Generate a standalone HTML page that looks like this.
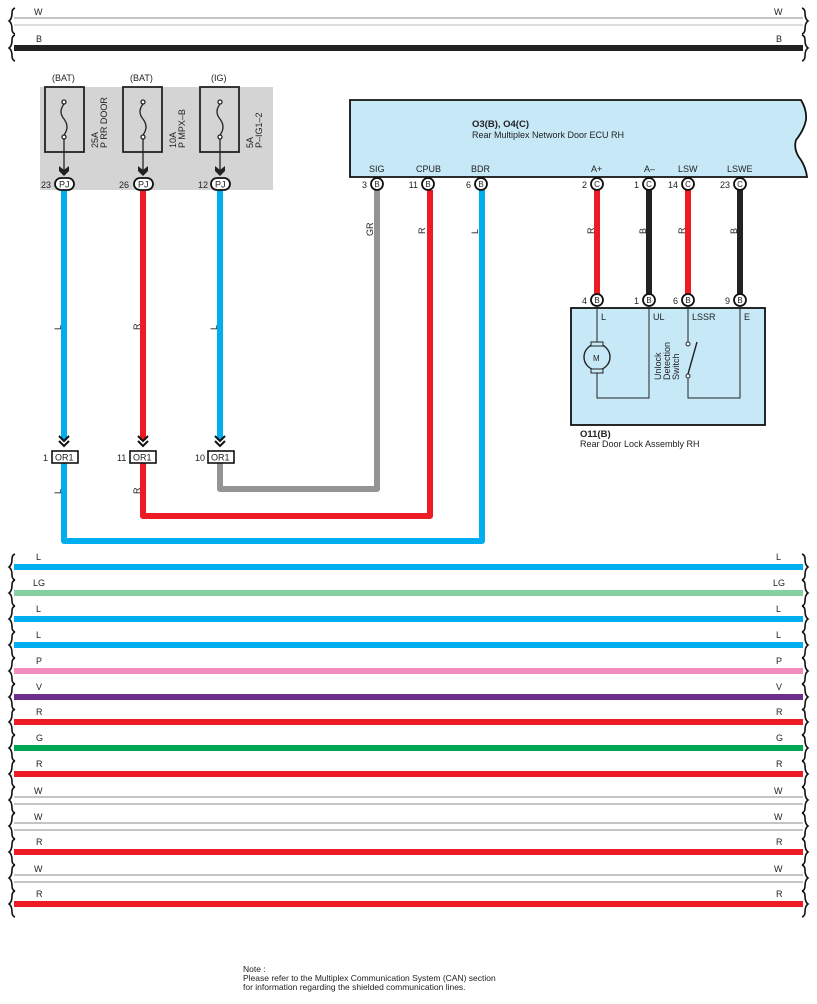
<!DOCTYPE html>
<html><head><meta charset="utf-8"><style>
html,body{margin:0;padding:0;background:#fff}
svg{display:block;font-family:"Liberation Sans",Arial,sans-serif}
</style></head><body>
<svg width="817" height="1004" viewBox="0 0 817 1004" xmlns="http://www.w3.org/2000/svg">
<defs>
<path id="bl" d="M15 -13 q-3 1 -3 5 q0 6 -3 8 q3 2 3 8 q0 4 3 5" fill="none" stroke="#111" stroke-width="1.6"/>
<path id="br" d="M802 -13 q3 1 3 5 q0 6 3 8 q-3 2 -3 8 q0 4 -3 5" fill="none" stroke="#111" stroke-width="1.6"/>
</defs>
<g font-size="9" fill="#222">
<line x1="14" y1="18" x2="803" y2="18" stroke="#888" stroke-width="1"/>
<line x1="14" y1="25" x2="803" y2="25" stroke="#bbb" stroke-width="1"/>
<use href="#bl" y="21"/><use href="#br" y="21"/>
<text x="34" y="15">W</text><text x="774" y="15">W</text>
<line x1="14" y1="48" x2="803" y2="48" stroke="#222" stroke-width="6"/>
<use href="#bl" y="48"/><use href="#br" y="48"/>
<text x="36" y="42">B</text><text x="776" y="42">B</text>

<rect x="40" y="87" width="233" height="103" fill="#d4d4d5"/>
<text x="52" y="81">(BAT)</text><text x="130" y="81">(BAT)</text><text x="211" y="81">(IG)</text>
<g fill="none" stroke="#222" stroke-width="1.8">
<rect x="45" y="87" width="39" height="65"/><rect x="123" y="87" width="39" height="65"/><rect x="200" y="87" width="39" height="65"/>
</g>
<g fill="none" stroke="#222" stroke-width="1.3">
<path d="M64 104 q-6 8 0 15 q6 8 0 16"/><circle cx="64" cy="102" r="2" fill="#fff"/><circle cx="64" cy="137" r="2" fill="#fff"/>
<path d="M143 104 q-6 8 0 15 q6 8 0 16"/><circle cx="143" cy="102" r="2" fill="#fff"/><circle cx="143" cy="137" r="2" fill="#fff"/>
<path d="M220 104 q-6 8 0 15 q6 8 0 16"/><circle cx="220" cy="102" r="2" fill="#fff"/><circle cx="220" cy="137" r="2" fill="#fff"/>
<line x1="64" y1="139" x2="64" y2="170"/><line x1="143" y1="139" x2="143" y2="170"/><line x1="220" y1="139" x2="220" y2="170"/>
</g>
<g fill="#222">
<path d="M59 166 l5 4 l5 -4 l0 5 l-5 5 l-5 -5z"/><path d="M138 166 l5 4 l5 -4 l0 5 l-5 5 l-5 -5z"/><path d="M215 166 l5 4 l5 -4 l0 5 l-5 5 l-5 -5z"/>
</g>
<g font-size="9">
<text transform="translate(98,148) rotate(-90)">25A</text><text transform="translate(107,148) rotate(-90)">P RR DOOR</text>
<text transform="translate(176,148) rotate(-90)">10A</text><text transform="translate(185,148) rotate(-90)">P MPX–B</text>
<text transform="translate(253,148) rotate(-90)">5A</text><text transform="translate(262,148) rotate(-90)">P–IG1–2</text>
</g>

<g fill="none" stroke-linejoin="round">
<path d="M64 190 V440" stroke="#00aeef" stroke-width="6"/>
<path d="M143 190 V440" stroke="#ed1c24" stroke-width="6"/>
<path d="M220 190 V440" stroke="#00aeef" stroke-width="6"/>
<path d="M64 463 V541 H482 V190" stroke="#00aeef" stroke-width="6"/>
<path d="M143 463 V516 H430 V190" stroke="#ed1c24" stroke-width="6"/>
<path d="M220 463 V489 H377 V190" stroke="#949494" stroke-width="6"/>
<path d="M597 190 V297" stroke="#ed1c24" stroke-width="6"/>
<path d="M649 190 V297" stroke="#222" stroke-width="6"/>
<path d="M688 190 V297" stroke="#ed1c24" stroke-width="6"/>
<path d="M740 190 V297" stroke="#222" stroke-width="6"/>
</g>

<g font-size="9">
<g fill="#fff" stroke="#111" stroke-width="1.8">
<rect x="55" y="178" width="19" height="12" rx="6"/><rect x="134" y="178" width="19" height="12" rx="6"/><rect x="211" y="178" width="19" height="12" rx="6"/>
</g>
<text x="59" y="187.5">PJ</text><text x="138" y="187.5">PJ</text><text x="215" y="187.5">PJ</text>
<text x="41" y="188">23</text><text x="119" y="188">26</text><text x="198" y="188">12</text>
</g>

<g fill="none" stroke="#111" stroke-width="2">
<path d="M59 436 l5 5 l5 -5 M59 441 l5 5 l5 -5"/>
<path d="M138 436 l5 5 l5 -5 M138 441 l5 5 l5 -5"/>
<path d="M215 436 l5 5 l5 -5 M215 441 l5 5 l5 -5"/>
</g>
<g fill="#fff" stroke="#111" stroke-width="1.6">
<rect x="52" y="451" width="26" height="12"/><rect x="130" y="451" width="26" height="12"/><rect x="208" y="451" width="26" height="12"/>
</g>
<g font-size="9">
<text x="55" y="460.5">OR1</text><text x="133" y="460.5">OR1</text><text x="211" y="460.5">OR1</text>
<text x="43" y="461">1</text><text x="117" y="461">11</text><text x="195" y="461">10</text>
</g>

<g font-size="9">
<text transform="translate(61,330) rotate(-90)">L</text>
<text transform="translate(140,330) rotate(-90)">R</text>
<text transform="translate(217,330) rotate(-90)">L</text>
<text transform="translate(61,494) rotate(-90)">L</text>
<text transform="translate(140,494) rotate(-90)">R</text>
<text transform="translate(373,236) rotate(-90)">GR</text>
<text transform="translate(425,234) rotate(-90)">R</text>
<text transform="translate(478,234) rotate(-90)">L</text>
<text transform="translate(594,234) rotate(-90)">R</text>
<text transform="translate(646,234) rotate(-90)">B</text>
<text transform="translate(685,234) rotate(-90)">R</text>
<text transform="translate(737,234) rotate(-90)">B</text>
</g>

<path d="M350 100 H801 q6 10 5 20 q-2 10 -10 20 q-3 10 5 20 q5 8 6 17 H350 Z" fill="#c6e8f7" stroke="#111" stroke-width="1.8"/>
<text x="472" y="127" font-size="9.5" font-weight="bold">O3(B), O4(C)</text>
<text x="472" y="138" font-size="9">Rear Multiplex Network Door ECU RH</text>
<g font-size="9">
<text x="369" y="172">SIG</text><text x="416" y="172">CPUB</text><text x="471" y="172">BDR</text>
<text x="591" y="172">A+</text><text x="644" y="172">A–</text><text x="678" y="172">LSW</text><text x="727" y="172">LSWE</text>
</g>
<g fill="#fff" stroke="#111" stroke-width="1.8">
<circle cx="377" cy="184" r="6"/><circle cx="428" cy="184" r="6"/><circle cx="481" cy="184" r="6"/>
<circle cx="597" cy="184" r="6"/><circle cx="649" cy="184" r="6"/><circle cx="688" cy="184" r="6"/><circle cx="740" cy="184" r="6"/>
<circle cx="597" cy="300" r="6"/><circle cx="649" cy="300" r="6"/><circle cx="688" cy="300" r="6"/><circle cx="740" cy="300" r="6"/>
</g>
<g font-size="8" text-anchor="middle">
<text x="377" y="187">B</text><text x="428" y="187">B</text><text x="481" y="187">B</text>
<text x="597" y="187">C</text><text x="649" y="187">C</text><text x="688" y="187">C</text><text x="740" y="187">C</text>
<text x="597" y="303">B</text><text x="649" y="303">B</text><text x="688" y="303">B</text><text x="740" y="303">B</text>
</g>
<g font-size="9" text-anchor="end">
<text x="367" y="188">3</text><text x="418" y="188">11</text><text x="471" y="188">6</text>
<text x="587" y="188">2</text><text x="639" y="188">1</text><text x="678" y="188">14</text><text x="730" y="188">23</text>
<text x="587" y="304">4</text><text x="639" y="304">1</text><text x="678" y="304">6</text><text x="730" y="304">9</text>
</g>

<rect x="571" y="308" width="194" height="117" fill="#c6e8f7" stroke="#111" stroke-width="1.8"/>
<g fill="none" stroke="#222" stroke-width="1">
<path d="M597 306 V398 H649 V306"/>
<path d="M688 306 V342 M688 377 V398 H740 V306"/>
<circle cx="597" cy="357" r="13" fill="#c6e8f7" stroke-width="1.4"/>
<rect x="591" y="342" width="12" height="4" fill="#c6e8f7"/><rect x="591" y="369" width="12" height="4" fill="#c6e8f7"/>
<circle cx="688" cy="344" r="2" fill="#fff"/><circle cx="688" cy="376" r="2" fill="#fff"/>
<line x1="688" y1="374" x2="697" y2="342" stroke-width="1.4"/>
</g>
<text x="593" y="361" font-size="8">M</text>
<g font-size="9">
<text x="601" y="320">L</text><text x="653" y="320">UL</text><text x="692" y="320">LSSR</text><text x="744" y="320">E</text>
<text transform="translate(661,380) rotate(-90)">Unlock</text>
<text transform="translate(670,380) rotate(-90)">Detection</text>
<text transform="translate(679,380) rotate(-90)">Switch</text>
<text x="580" y="437" font-size="9.5" font-weight="bold">O11(B)</text>
<text x="580" y="447">Rear Door Lock Assembly RH</text>
</g>

<g>
<line x1="14" y1="567" x2="803" y2="567" stroke="#00aeef" stroke-width="6"/>
<line x1="14" y1="593" x2="803" y2="593" stroke="#85cfa0" stroke-width="6"/>
<line x1="14" y1="619" x2="803" y2="619" stroke="#00aeef" stroke-width="6"/>
<line x1="14" y1="645" x2="803" y2="645" stroke="#00aeef" stroke-width="6"/>
<line x1="14" y1="671" x2="803" y2="671" stroke="#f28cbf" stroke-width="6"/>
<line x1="14" y1="697" x2="803" y2="697" stroke="#6d2f8e" stroke-width="6"/>
<line x1="14" y1="722" x2="803" y2="722" stroke="#ed1c24" stroke-width="6"/>
<line x1="14" y1="748" x2="803" y2="748" stroke="#00a651" stroke-width="6"/>
<line x1="14" y1="774" x2="803" y2="774" stroke="#ed1c24" stroke-width="6"/>
<line x1="14" y1="797" x2="803" y2="797" stroke="#888" stroke-width="1"/>
<line x1="14" y1="804" x2="803" y2="804" stroke="#888" stroke-width="1"/>
<line x1="14" y1="823" x2="803" y2="823" stroke="#888" stroke-width="1"/>
<line x1="14" y1="830" x2="803" y2="830" stroke="#888" stroke-width="1"/>
<line x1="14" y1="852" x2="803" y2="852" stroke="#ed1c24" stroke-width="6"/>
<line x1="14" y1="875" x2="803" y2="875" stroke="#888" stroke-width="1"/>
<line x1="14" y1="882" x2="803" y2="882" stroke="#888" stroke-width="1"/>
<line x1="14" y1="904" x2="803" y2="904" stroke="#ed1c24" stroke-width="6"/>
</g>
<g>
<use href="#bl" y="567"/><use href="#br" y="567"/>
<use href="#bl" y="593"/><use href="#br" y="593"/>
<use href="#bl" y="619"/><use href="#br" y="619"/>
<use href="#bl" y="645"/><use href="#br" y="645"/>
<use href="#bl" y="671"/><use href="#br" y="671"/>
<use href="#bl" y="697"/><use href="#br" y="697"/>
<use href="#bl" y="722"/><use href="#br" y="722"/>
<use href="#bl" y="748"/><use href="#br" y="748"/>
<use href="#bl" y="774"/><use href="#br" y="774"/>
<use href="#bl" y="800"/><use href="#br" y="800"/>
<use href="#bl" y="826"/><use href="#br" y="826"/>
<use href="#bl" y="852"/><use href="#br" y="852"/>
<use href="#bl" y="878"/><use href="#br" y="878"/>
<use href="#bl" y="904"/><use href="#br" y="904"/>
</g>
<g font-size="9">
<text x="36" y="560">L</text><text x="776" y="560">L</text>
<text x="33" y="586">LG</text><text x="773" y="586">LG</text>
<text x="36" y="612">L</text><text x="776" y="612">L</text>
<text x="36" y="638">L</text><text x="776" y="638">L</text>
<text x="36" y="664">P</text><text x="776" y="664">P</text>
<text x="36" y="690">V</text><text x="776" y="690">V</text>
<text x="36" y="715">R</text><text x="776" y="715">R</text>
<text x="36" y="741">G</text><text x="776" y="741">G</text>
<text x="36" y="767">R</text><text x="776" y="767">R</text>
<text x="34" y="794">W</text><text x="774" y="794">W</text>
<text x="34" y="820">W</text><text x="774" y="820">W</text>
<text x="36" y="845">R</text><text x="776" y="845">R</text>
<text x="34" y="872">W</text><text x="774" y="872">W</text>
<text x="36" y="897">R</text><text x="776" y="897">R</text>
</g>

<g font-size="8.5">
<text x="243" y="972">Note :</text>
<text x="243" y="981">Please refer to the Multiplex Communication System (CAN) section</text>
<text x="243" y="990">for information regarding the shielded communication lines.</text>
</g>
</g>
</svg>
</body></html>
